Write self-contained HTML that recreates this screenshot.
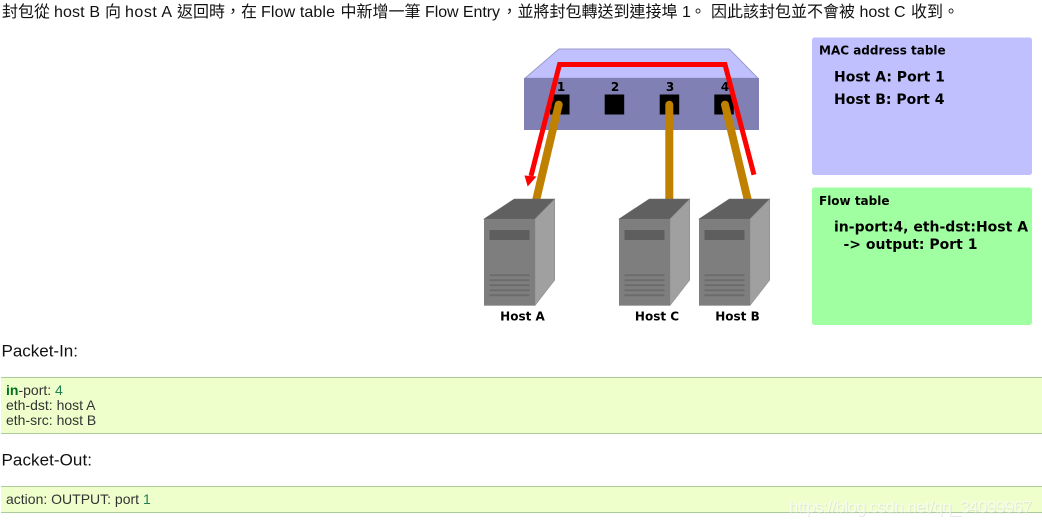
<!DOCTYPE html>
<html><head><meta charset="utf-8">
<style>
html,body{margin:0;padding:0;background:#fff;width:1042px;height:526px;overflow:hidden}
svg{display:block;position:absolute;left:0;top:0}
.t{font-family:"Liberation Sans","Noto Sans CJK TC",sans-serif;font-size:16px;fill:#111}
.h{font-family:"Liberation Sans","Noto Sans CJK TC",sans-serif;font-size:17px;fill:#111}
.d{font-family:"DejaVu Sans",sans-serif;font-weight:bold;fill:#000}
.c{font-family:"Liberation Sans",sans-serif;font-size:14px;fill:#333}
</style></head><body>
<svg width="1042" height="526" viewBox="0 0 1042 526" xmlns="http://www.w3.org/2000/svg">
<defs>
<g id="host">
<polygon points="484,219 514.3,199 554.7,199 535,219" fill="#606060" stroke="#6a6a6a" stroke-width=".6"/>
<polygon points="535,219 554.7,199 554.7,280 535,305.5" fill="#a0a0a0" stroke="#8c8c8c" stroke-width=".6"/>
<rect x="484" y="219" width="51" height="86.5" fill="#7e7e7e"/>
<rect x="484" y="305" width="51" height="1" fill="#aaa"/>
<rect x="489.5" y="230" width="40" height="10" fill="#5e5e5e"/>
<g fill="#6c6c6c"><rect x="489.5" y="274.2" width="40" height="2"/><rect x="489.5" y="279.2" width="40" height="2"/><rect x="489.5" y="284.2" width="40" height="2"/><rect x="489.5" y="289.2" width="40" height="2"/><rect x="489.5" y="294.2" width="40" height="2"/></g>
</g>
</defs>

<g class="t">
<text x="2" y="17">封包從</text>
<text x="54" y="17" textLength="46">host B</text>
<text x="105" y="17">向</text>
<text x="125" y="17" textLength="47">host A</text>
<text x="177" y="17">返回時，在</text>
<text x="261" y="17" textLength="74">Flow table</text>
<text x="340.5" y="17">中新增一筆</text>
<text x="425" y="17" textLength="75">Flow Entry</text>
<text x="501.5" y="17">，並將封包轉送到連接埠</text>
<text x="682" y="17">1</text>
<text x="690" y="17">。</text>
<text x="711" y="17">因此該封包並不會被</text>
<text x="859.5" y="17" textLength="46">host C</text>
<text x="911" y="17">收到。</text>
</g>

<polygon points="525,78.3 559,49 729.3,49 758,78.3" fill="#c0c0ff" stroke="#9a9ac8" stroke-width="1"/>
<rect x="524" y="78" width="235" height="52" fill="#8080b4"/>
<g fill="#000">
<rect x="550" y="94.5" width="19.5" height="20"/>
<rect x="604.7" y="94.5" width="19.5" height="20"/>
<rect x="659.7" y="94.5" width="19.5" height="20"/>
<rect x="714.3" y="94.5" width="19.5" height="20"/>
</g>
<g class="d" font-size="12" text-anchor="middle">
<text x="561" y="91">1</text><text x="615" y="91">2</text><text x="670" y="91">3</text><text x="725" y="91">4</text>
</g>

<g stroke="#c08000" stroke-width="8" stroke-linecap="round" fill="none">
<line x1="558.7" y1="104.7" x2="535" y2="205"/>
<line x1="669.3" y1="104.7" x2="669.3" y2="205"/>
<line x1="725" y1="104.7" x2="749" y2="205"/>
</g>

<use href="#host"/>
<use href="#host" x="135"/>
<use href="#host" x="215"/>

<polyline points="754,174.7 725,64.5 559.5,64.5 531,176" fill="none" stroke="#ff0000" stroke-width="5"/>
<polygon points="527.7,186.5 524.5,175.5 536.5,176.5" fill="#ff0000"/>

<g class="d" font-size="12" text-anchor="middle">
<text x="522.5" y="320.5">Host A</text>
<text x="657" y="320.5">Host C</text>
<text x="737.5" y="320.5">Host B</text>
</g>

<rect x="812" y="37.5" width="220" height="137.5" rx="2.5" fill="#c0c0ff"/>
<rect x="812" y="187.5" width="220" height="137.5" rx="2.5" fill="#a0ffa0"/>
<text class="d" font-size="12" x="819" y="54.5">MAC address table</text>
<text class="d" font-size="14" x="834" y="81.5">Host A: Port 1</text>
<text class="d" font-size="14" x="834" y="104">Host B: Port 4</text>
<text class="d" font-size="12" x="819" y="205">Flow table</text>
<text class="d" font-size="14" x="834" y="231.5">in-port:4, eth-dst:Host A</text>
<text class="d" font-size="14" x="843.5" y="249">-&gt; output: Port 1</text>

<text class="h" x="1.5" y="356.5" textLength="76.5">Packet-In:</text>
<rect x="1" y="377.5" width="1041" height="56" fill="#eeffcc"/>
<rect x="1" y="377" width="1041" height="1" fill="#aacc99"/>
<rect x="1" y="433" width="1041" height="1" fill="#aacc99"/>
<text class="c" x="6" y="395"><tspan font-weight="bold" fill="#007020">in</tspan>-port: <tspan fill="#208050">4</tspan></text>
<text class="c" x="6" y="410">eth-dst: host A</text>
<text class="c" x="6" y="425">eth-src: host B</text>
<text class="h" x="1.5" y="465.5" textLength="90.5">Packet-Out:</text>
<rect x="1" y="486.5" width="1041" height="26" fill="#eeffcc"/>
<rect x="1" y="486" width="1041" height="1" fill="#aacc99"/>
<rect x="1" y="512" width="1041" height="1" fill="#aacc99"/>
<text class="c" x="6" y="504">action: OUTPUT: port <tspan fill="#208050">1</tspan></text>

<text x="789.7" y="513.3" font-family="Liberation Sans, sans-serif" font-size="17" fill="#bbbbbb" fill-opacity=".35" textLength="243">https://blog.csdn.net/qq_34099967</text>
<text x="789" y="512.6" font-family="Liberation Sans, sans-serif" font-size="17" fill="#ffffff" fill-opacity=".7" textLength="243">https://blog.csdn.net/qq_34099967</text>
</svg>
</body></html>
